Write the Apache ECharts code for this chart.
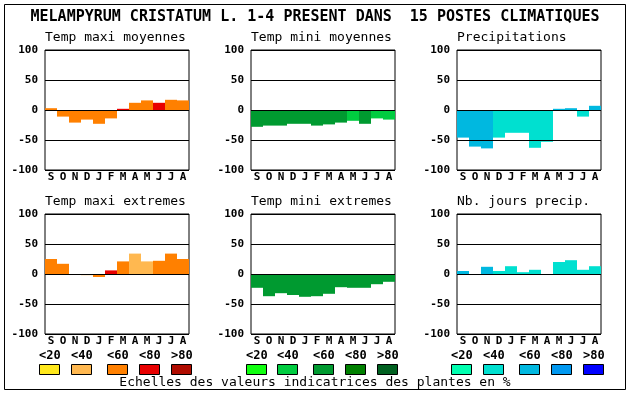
<!DOCTYPE html>
<html><head><meta charset="utf-8">
<script src="https://cdn.jsdelivr.net/npm/echarts@6/dist/echarts.min.js"></script>
<style>html,body{margin:0;padding:0;background:#fff}#c{width:630px;height:394px}</style>
</head><body><div id="c"></div>
<script>
const months = ['S','O','N','D','J','F','M','A','M','J','J','A'];
const yTicks = [-100,-50,0,50,100];
const classLabels = ['<20','<40','<60','<80','>80'];
const mainTitle = 'MELAMPYRUM CRISTATUM L. 1-4 PRESENT DANS  15 POSTES CLIMATIQUES';
const footer = 'Echelles des valeurs indicatrices des plantes en %';
const panelTitles = ['Temp maxi moyennes','Temp mini moyennes','Precipitations','Temp maxi extremes','Temp mini extremes','Nb. jours precip.'];

const tmaxMoy    = [3,-11,-21,-16,-23,-14,2,12,16,12,17,16];
const tmaxMoyCls = [3,3,3,3,3,3,4,3,3,4,3,3];
const tminMoy    = [-28,-26,-26,-23,-23,-26,-24,-21,-18,-23,-14,-16];
const tminMoyCls = [3,3,3,3,3,3,3,3,2,3,2,2];
const precip     = [-46,-61,-64,-46,-38,-38,-63,-53,2,3,-11,7];
const precipCls  = [3,3,3,2,2,2,2,2,3,3,2,3];
const tmaxExt    = [25,17,0,-2,-5,6,21,34,21,22,34,25];
const tmaxExtCls = [3,3,3,2,3,4,3,2,2,3,3,3];
const tminExt    = [-23,-37,-32,-35,-38,-37,-33,-22,-23,-23,-17,-13];
const tminExtCls = [3,3,3,3,3,3,3,3,3,3,3,3];
const nbJours    = [5,0,12,5,13,3,7,0,20,23,7,13];
const nbJoursCls = [3,3,3,2,2,2,2,2,2,2,2,2];

const palTemp = ['#ffe81c','#ffb850','#ff8000','#e80000','#b00c00'];
const palGreen = ['#10ff10','#00cc40','#009a30','#008000','#006020'];
const palBlue = ['#00ffb0','#00e0d0','#00b8e0','#0098f0','#0000ff'];

const panels = [
  {vals:tmaxMoy, cls:tmaxMoyCls, pal:palTemp},
  {vals:tminMoy, cls:tminMoyCls, pal:palGreen},
  {vals:precip, cls:precipCls, pal:palBlue},
  {vals:tmaxExt, cls:tmaxExtCls, pal:palTemp},
  {vals:tminExt, cls:tminExtCls, pal:palGreen},
  {vals:nbJours, cls:nbJoursCls, pal:palBlue}
];

const MONO = '"DejaVu Sans Mono", "Liberation Mono", monospace';
const lefts = [45,251,457];
const tops = [50,214];
const grids=[], xAxes=[], yAxes=[], series=[], titles=[], graphics=[];

panels.forEach((p,i)=>{
  const col = i%3, row = Math.floor(i/3);
  grids.push({left:lefts[col], top:tops[row], width:144, height:120, show:true, borderColor:'#000', borderWidth:1, backgroundColor:'transparent'});
  xAxes.push({type:'category', gridIndex:i, data:months, z:5,
    axisLine:{show:false}, axisTick:{show:false},
    axisLabel:{interval:0, margin:2, color:'#000', fontFamily:MONO, fontWeight:'bold', fontSize:11}});
  yAxes.push({type:'value', gridIndex:i, min:-100, max:100, interval:50, z:5,
    axisLine:{show:false}, axisTick:{show:false},
    splitLine:{show:true, lineStyle:{color:'#000', width:1}},
    axisLabel:{margin:7, color:'#000', fontFamily:MONO, fontWeight:'bold', fontSize:11}});
  series.push({type:'bar', xAxisIndex:i, yAxisIndex:i, barWidth:'100%', barCategoryGap:'0%',
    data:p.vals.map((v,k)=>({value:v, itemStyle:{color:p.pal[p.cls[k]-1]}})),
    itemStyle:{borderWidth:0}, animation:false, silent:true});
  titles.push({text:panelTitles[i], left:lefts[col], top:tops[row]-19,
    textStyle:{fontFamily:MONO, fontSize:13, fontWeight:'normal', color:'#000'}, padding:0});
});

titles.push({text:mainTitle, left:'center', top:10, padding:0,
  textStyle:{fontFamily:MONO, fontSize:15, fontWeight:'bold', color:'#000'}});

graphics.push({type:'rect', shape:{x:4.5,y:4.5,width:621,height:385}, style:{fill:'none', stroke:'#000', lineWidth:1}, silent:true});
const boxX = [[39,71,107,139,171],[246,277,313,345,377],[451,483,519,551,583]];
const pals = [palTemp, palGreen, palBlue];
for (let g=0; g<3; g++){
  for (let k=0;k<5;k++){
    graphics.push({type:'text', x:boxX[g][k], y:350, style:{text:classLabels[k], font:'bold 12px '+MONO, fill:'#000'}});
    graphics.push({type:'rect', shape:{x:boxX[g][k]+0.5, y:364.5, width:20, height:10}, style:{fill:pals[g][k], stroke:'#000', lineWidth:1}});
  }
}
graphics.push({type:'text', x:315, y:376, style:{text:footer, font:'13px '+MONO, fill:'#000', textAlign:'center'}});

const chart = echarts.init(document.getElementById('c'), null, {renderer:'canvas'});
chart.setOption({animation:false, backgroundColor:'#fff', title:titles, grid:grids, xAxis:xAxes, yAxis:yAxes, series:series, graphic:graphics});
</script></body></html>
